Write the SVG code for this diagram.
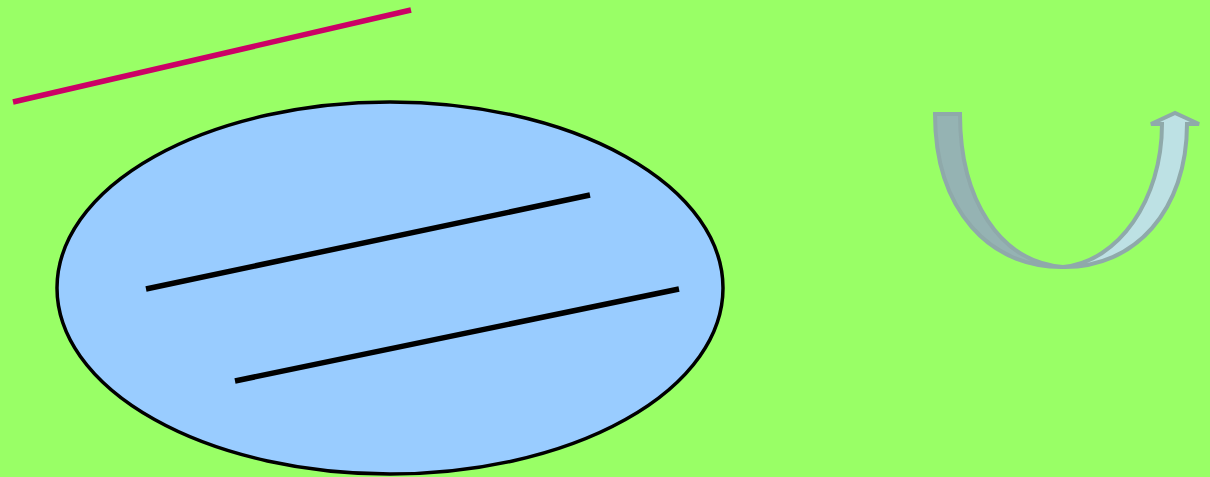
<svg xmlns="http://www.w3.org/2000/svg" width="1210" height="477" viewBox="0 0 1210 477">
<style>
.bl{stroke:#000;stroke-width:5.5;fill:none}
.ua{stroke:#8fa9aa;stroke-width:4;stroke-linejoin:miter}
</style>
<rect width="1210" height="477" fill="#99ff66"/>
<line x1="13" y1="102" x2="411" y2="10" stroke="#cc0066" stroke-width="5.5"/>
<g id="ellipse">
<ellipse cx="390" cy="288" rx="333" ry="186" fill="#99ccff" stroke="#000" stroke-width="3.5"/>
<line class="bl" x1="146" y1="289" x2="590" y2="195"/>
<line class="bl" x1="235" y1="381" x2="679" y2="289"/>
</g>
<g id="uarrow">
<path class="ua" fill="#95b3b3" d="M935,114 L960,114 C960,200 1000,262 1063,267 C990,268 935,210 935,114 Z"/>
<path class="ua" fill="#bde1e4" d="M1063,267 C1118,262 1162,200 1162,124 L1151,124 L1175,113 L1199,124 L1187,124 C1187,210 1135,268 1063,267 Z"/>
</g>
</svg>
